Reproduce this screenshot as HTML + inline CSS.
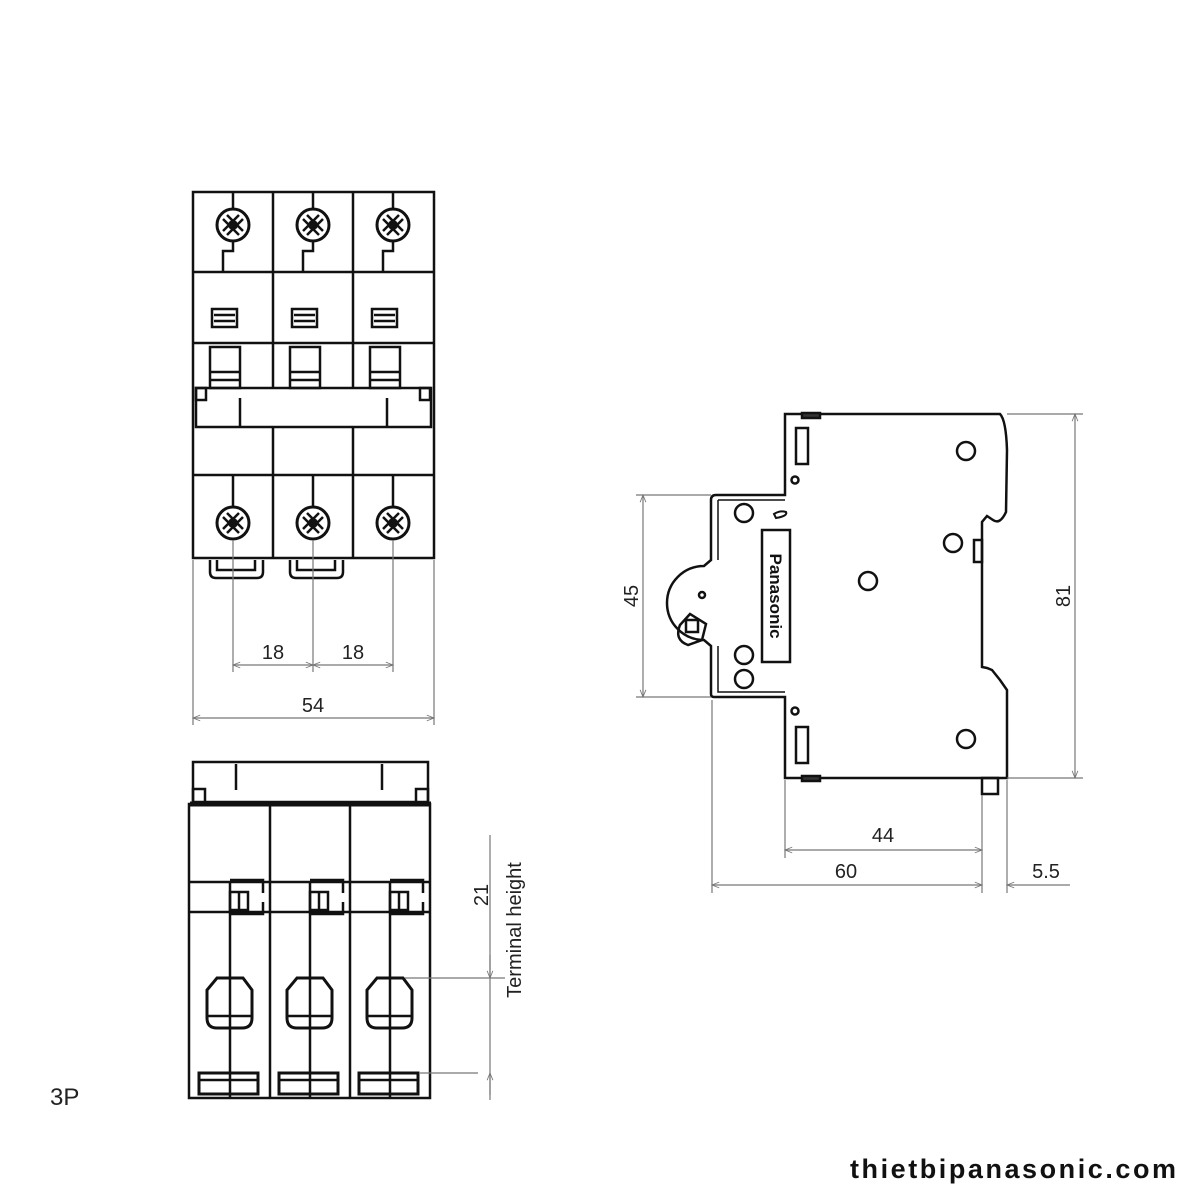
<!DOCTYPE html>
<html><head><style>body{margin:0;background:#fff}svg{display:block}text{font-family:"Liberation Sans",sans-serif}</style></head>
<body>
<svg width="1200" height="1200" viewBox="0 0 1200 1200" xmlns="http://www.w3.org/2000/svg">
<defs>
<marker id="a" viewBox="0 0 10 10" refX="10" refY="5" markerWidth="9" markerHeight="6" orient="auto-start-reverse"><path d="M0,1 L10,5 L0,9" fill="none" stroke="#777" stroke-width="1.2"/></marker>
<g id="screw"><circle r="16" fill="#fff" stroke="#111" stroke-width="3"/>
<path d="M-10,-6 L6,10 M-6,-10 L10,6 M-10,6 L6,-10 M-6,10 L10,-6" stroke="#111" stroke-width="2.5"/><circle r="5" fill="#111"/></g>
</defs>
<g fill="none" stroke="#111" stroke-width="2.5">
<rect x="193" y="192" width="241" height="366"/>
<line x1="273" y1="192" x2="273" y2="558"/><line x1="353" y1="192" x2="353" y2="558"/>
<line x1="193" y1="272" x2="434" y2="272"/><line x1="193" y1="343" x2="434" y2="343"/>
<line x1="193" y1="475" x2="434" y2="475"/>
<rect x="196" y="388" width="235" height="39" fill="#fff"/>
<line x1="240" y1="398" x2="240" y2="427"/><line x1="387" y1="398" x2="387" y2="427"/>
<rect x="196" y="388" width="10" height="12"/><rect x="420" y="388" width="10" height="12"/>
<g id="h"><rect x="210" y="347" width="30" height="41"/><line x1="210" y1="372" x2="240" y2="372"/><line x1="210" y1="380" x2="240" y2="380"/>
<rect x="212" y="309" width="25" height="18"/><line x1="214" y1="315" x2="235" y2="315"/><line x1="214" y1="321" x2="235" y2="321"/>
<path d="M233,192 V209 M233,241 V251 H223 V272"/><path d="M233,475 V507"/></g>
<use href="#h" x="80"/><use href="#h" x="160"/>
<path d="M210,560 V572 Q210,578 216,578 H257 Q263,578 263,572 V560 M217,560 V570 H255 V560"/>
<path d="M290,560 V572 Q290,578 296,578 H337 Q343,578 343,572 V560 M297,560 V570 H335 V560"/>
</g>
<use href="#screw" x="233" y="225"/><use href="#screw" x="313" y="225"/><use href="#screw" x="393" y="225"/>
<use href="#screw" x="233" y="523"/><use href="#screw" x="313" y="523"/><use href="#screw" x="393" y="523"/>
<g stroke="#777" stroke-width="1.2" fill="none">
<line x1="233" y1="540" x2="233" y2="672"/><line x1="313" y1="540" x2="313" y2="672"/><line x1="393" y1="540" x2="393" y2="672"/>
<line x1="193" y1="560" x2="193" y2="725"/><line x1="434" y1="560" x2="434" y2="725"/>
<line x1="233" y1="665" x2="313" y2="665" marker-start="url(#a)" marker-end="url(#a)"/>
<line x1="313" y1="665" x2="393" y2="665" marker-start="url(#a)" marker-end="url(#a)"/>
<line x1="193" y1="718" x2="434" y2="718" marker-start="url(#a)" marker-end="url(#a)"/>
</g>
<g font-size="20" fill="#222" text-anchor="middle">
<text x="273" y="659">18</text><text x="353" y="659">18</text><text x="313" y="712">54</text>
</g>
<g fill="none" stroke="#111" stroke-width="2.5">
<rect x="193" y="762" width="235" height="40"/>
<line x1="236" y1="764" x2="236" y2="790"/><line x1="382" y1="764" x2="382" y2="790"/>
<rect x="193" y="789" width="12" height="14"/><rect x="416" y="789" width="12" height="14"/>
<line x1="190" y1="804" x2="431" y2="804" stroke-width="5"/>
<rect x="189" y="804" width="241" height="294"/>
<line x1="270" y1="804" x2="270" y2="1098"/><line x1="350" y1="804" x2="350" y2="1098"/>
<line x1="189" y1="882" x2="430" y2="882"/><line x1="189" y1="912" x2="430" y2="912"/>
<g id="b"><path d="M230,882 V912 M230,912 V1098"/>
<path d="M230,880 H263 V893 M230,914 H263 V902" /><rect x="230" y="892" width="18" height="18"/><line x1="239" y1="892" x2="239" y2="910"/>
<path d="M217,978 H243 L252,990 V1018 Q252,1028 242,1028 H217 Q207,1028 207,1018 V990 Z" stroke-width="3"/>
<line x1="207" y1="1016" x2="252" y2="1016"/>
<rect x="199" y="1073" width="59" height="21" stroke-width="3"/><line x1="200" y1="1080" x2="257" y2="1080"/></g>
<use href="#b" x="80"/><use href="#b" x="160"/>
</g>
<g stroke="#777" stroke-width="1.2" fill="none">
<line x1="490" y1="835" x2="490" y2="1100"/>
<line x1="405" y1="978" x2="505" y2="978"/><line x1="420" y1="1073" x2="478" y2="1073"/>
<line x1="490" y1="955" x2="490" y2="978" marker-end="url(#a)"/>
<line x1="490" y1="1095" x2="490" y2="1073" marker-end="url(#a)"/>
</g>
<text transform="translate(488,895) rotate(-90)" font-size="20" text-anchor="middle" fill="#222">21</text>
<text transform="translate(521,930) rotate(-90)" font-size="20" text-anchor="middle" fill="#222">Terminal height</text>
<g fill="none" stroke="#111" stroke-width="2.5">
<path d="M785,495 V414 H1000 Q1006,420 1007,450 L1006,512 Q1000,525 993,520 L987,516 L982,522 V667 L987,668 L992,670 L1000,680 L1007,690 V778 H785 V697 H714 Q711,697 711,694 V646 L704,640 A26,26 0 0 1 704,566 L711,560 V500 Q711,495 716,495 Z"/>
<path d="M718,500 H785 M718,500 V560 M718,646 V692 H785" stroke-width="1.5"/>
<rect x="796" y="428" width="12" height="36"/><rect x="796" y="727" width="12" height="36"/>
<rect x="802" y="413" width="18" height="5" fill="#333"/><rect x="802" y="776" width="18" height="5" fill="#333"/>
<rect x="762" y="530" width="28" height="132"/>
<rect x="974" y="540" width="8" height="22"/>
<rect x="982" y="778" width="16" height="16"/>
<path d="M680,625 L690,614 L706,624 L702,640 L688,645 Q674,640 680,625 Z"/><rect x="686" y="620" width="12" height="12"/>
</g>
<g fill="none" stroke="#111" stroke-width="2.5">
<circle cx="966" cy="451" r="9"/><circle cx="953" cy="543" r="9"/><circle cx="868" cy="581" r="9"/><circle cx="966" cy="739" r="9"/>
<circle cx="744" cy="513" r="9"/><circle cx="744" cy="655" r="9"/><circle cx="744" cy="679" r="9"/>
<circle cx="795" cy="480" r="3.5"/><circle cx="795" cy="711" r="3.5"/><circle cx="702" cy="595" r="3"/>
<path d="M774,514 Q780,510 786,512 Q788,516 776,518 Z" stroke-width="2"/>
</g>
<text transform="translate(770,596) rotate(90)" font-size="17" font-weight="bold" text-anchor="middle" fill="#111">Panasonic</text>
<g stroke="#777" stroke-width="1.2" fill="none">
<line x1="636" y1="495" x2="711" y2="495"/><line x1="636" y1="697" x2="711" y2="697"/>
<line x1="643" y1="495" x2="643" y2="697" marker-start="url(#a)" marker-end="url(#a)"/>
<line x1="1007" y1="414" x2="1083" y2="414"/><line x1="1007" y1="778" x2="1083" y2="778"/>
<line x1="1075" y1="414" x2="1075" y2="778" marker-start="url(#a)" marker-end="url(#a)"/>
<line x1="785" y1="780" x2="785" y2="858"/><line x1="712" y1="700" x2="712" y2="893"/>
<line x1="982" y1="795" x2="982" y2="893"/><line x1="1007" y1="780" x2="1007" y2="893"/>
<line x1="785" y1="850" x2="982" y2="850" marker-start="url(#a)" marker-end="url(#a)"/>
<line x1="712" y1="885" x2="982" y2="885" marker-start="url(#a)" marker-end="url(#a)"/>
<line x1="1070" y1="885" x2="1007" y2="885" marker-end="url(#a)"/>
</g>
<g font-size="20" fill="#222" text-anchor="middle">
<text x="883" y="842">44</text><text x="846" y="878">60</text><text x="1046" y="878">5.5</text>
<text transform="translate(638,596) rotate(-90)">45</text>
<text transform="translate(1070,596) rotate(-90)">81</text>
</g>
<text x="50" y="1105" font-size="24" fill="#222">3P</text>
<text x="850" y="1178" font-size="27" font-weight="bold" textLength="326" lengthAdjust="spacing" fill="#111">thietbipanasonic.com</text>
</svg>
</body></html>
